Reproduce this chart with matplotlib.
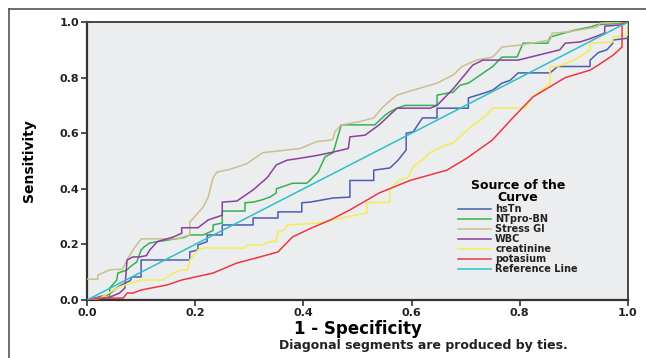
import matplotlib.pyplot as plt
from matplotlib.lines import Line2D
from matplotlib import font_manager

# ROC curves (1 - specificity, sensitivity)
hstn_x = [0, 0.04, 0.06, 0.08, 0.083, 0.10, 0.10, 0.19, 0.19, 0.205, 0.205, 0.222, 0.222, 0.25, 0.25, 0.307, 0.307,
          0.353, 0.353, 0.397, 0.397, 0.412, 0.455, 0.486, 0.486, 0.53, 0.53, 0.56, 0.575, 0.59, 0.59, 0.603, 0.62,
          0.647, 0.647, 0.705, 0.705, 0.735, 0.75, 0.767, 0.782, 0.797, 0.856, 0.87, 0.93, 0.93, 0.945, 0.961, 0.972,
          0.972, 1.0, 1.0]
hstn_y = [0, 0.02, 0.05, 0.07, 0.083, 0.083, 0.144, 0.144, 0.173, 0.18, 0.198, 0.21, 0.234, 0.234, 0.27, 0.27, 0.295,
          0.295, 0.317, 0.317, 0.35, 0.352, 0.367, 0.37, 0.43, 0.43, 0.467, 0.475, 0.503, 0.54, 0.60, 0.605, 0.655,
          0.655, 0.69, 0.69, 0.727, 0.745, 0.755, 0.78, 0.79, 0.817, 0.817, 0.84, 0.84, 0.863, 0.89, 0.9, 0.924,
          0.935, 0.942, 1.0]

ntpro_x = [0, 0.042, 0.042, 0.055, 0.057, 0.074, 0.08, 0.092, 0.10, 0.105, 0.116, 0.13, 0.18, 0.19, 0.215, 0.233,
           0.233, 0.25, 0.25, 0.292, 0.292, 0.307, 0.323, 0.338, 0.35, 0.35, 0.38, 0.406, 0.412, 0.427, 0.44, 0.455,
           0.47, 0.532, 0.551, 0.56, 0.573, 0.588, 0.647, 0.647, 0.677, 0.69, 0.705, 0.72, 0.735, 0.75, 0.767, 0.795,
           0.806, 0.852, 0.856, 0.869, 0.9, 0.93, 0.943, 0.99, 1.0]
ntpro_y = [0, 0.01, 0.043, 0.072, 0.097, 0.108, 0.12, 0.137, 0.18, 0.19, 0.205, 0.21, 0.225, 0.234, 0.234, 0.25,
           0.27, 0.277, 0.32, 0.32, 0.35, 0.352, 0.36, 0.37, 0.385, 0.40, 0.42, 0.42, 0.43, 0.46, 0.515, 0.53,
           0.63, 0.63, 0.665, 0.677, 0.69, 0.70, 0.70, 0.737, 0.748, 0.773, 0.78, 0.80, 0.82, 0.84, 0.874, 0.874,
           0.924, 0.924, 0.946, 0.953, 0.97, 0.982, 0.99, 0.996, 1.0]

stress_x = [0, 0.02, 0.02, 0.042, 0.05, 0.065, 0.074, 0.085, 0.10, 0.166, 0.19, 0.19, 0.215, 0.224, 0.233, 0.24,
            0.264, 0.295, 0.325, 0.394, 0.425, 0.45, 0.455, 0.458, 0.47, 0.5, 0.53, 0.545, 0.556, 0.573, 0.603,
            0.647, 0.677, 0.693, 0.72, 0.75, 0.767, 0.80, 0.856, 0.86, 0.887, 0.943, 0.948, 1.0]
stress_y = [0.075, 0.075, 0.09, 0.108, 0.11, 0.11, 0.144, 0.18, 0.22, 0.22, 0.234, 0.28, 0.335, 0.37, 0.44, 0.46,
            0.47, 0.49, 0.53, 0.545, 0.57, 0.575, 0.58, 0.605, 0.63, 0.64, 0.655, 0.69, 0.71, 0.737, 0.755,
            0.78, 0.81, 0.84, 0.863, 0.874, 0.91, 0.917, 0.935, 0.96, 0.964, 0.982, 0.996, 1.0]

wbc_x = [0, 0.042, 0.06, 0.07, 0.074, 0.085, 0.098, 0.11, 0.116, 0.13, 0.148, 0.16, 0.175, 0.175, 0.205, 0.224,
         0.25, 0.25, 0.277, 0.307, 0.333, 0.35, 0.37, 0.394, 0.425, 0.45, 0.483, 0.486, 0.514, 0.54, 0.573,
         0.634, 0.647, 0.677, 0.713, 0.732, 0.797, 0.874, 0.884, 0.911, 0.93, 0.957, 0.957, 0.989, 1.0]
wbc_y = [0, 0.01, 0.025, 0.043, 0.144, 0.155, 0.155, 0.16, 0.18, 0.21, 0.22, 0.227, 0.24, 0.26, 0.26, 0.288,
         0.305, 0.352, 0.356, 0.396, 0.44, 0.486, 0.503, 0.51, 0.52, 0.53, 0.545, 0.587, 0.593, 0.63, 0.69,
         0.69, 0.70, 0.76, 0.845, 0.863, 0.863, 0.9, 0.924, 0.928, 0.94, 0.96, 0.985, 0.99, 1.0]

creat_x = [0, 0.024, 0.06, 0.08, 0.10, 0.14, 0.16, 0.175, 0.186, 0.19, 0.205, 0.215, 0.292, 0.295, 0.323, 0.338,
           0.35, 0.353, 0.366, 0.37, 0.43, 0.47, 0.517, 0.517, 0.56, 0.56, 0.575, 0.593, 0.603, 0.62, 0.634,
           0.662, 0.677, 0.708, 0.735, 0.75, 0.81, 0.824, 0.856, 0.856, 0.87, 0.9, 0.915, 0.93, 0.93, 0.972,
           0.972, 1.0, 1.0]
creat_y = [0, 0.007, 0.047, 0.06, 0.072, 0.072, 0.097, 0.108, 0.108, 0.144, 0.18, 0.187, 0.187, 0.198, 0.198, 0.21,
           0.21, 0.245, 0.252, 0.27, 0.277, 0.295, 0.313, 0.35, 0.352, 0.396, 0.43, 0.44, 0.48, 0.503, 0.53,
           0.557, 0.565, 0.62, 0.66, 0.69, 0.69, 0.73, 0.78, 0.84, 0.84, 0.863, 0.88, 0.9, 0.924, 0.928,
           0.946, 0.953, 1.0]

kal_x = [0, 0.024, 0.067, 0.074, 0.085, 0.10, 0.129, 0.148, 0.175, 0.233, 0.277, 0.32, 0.353, 0.38, 0.416, 0.45,
         0.486, 0.54, 0.597, 0.665, 0.702, 0.749, 0.787, 0.824, 0.884, 0.93, 0.945, 0.972, 0.989, 0.989, 1.0]
kal_y = [0, 0.007, 0.007, 0.025, 0.025, 0.036, 0.047, 0.054, 0.072, 0.097, 0.133, 0.155, 0.173, 0.227, 0.26, 0.288,
         0.324, 0.385, 0.43, 0.467, 0.51, 0.575, 0.655, 0.73, 0.80, 0.827, 0.845, 0.88, 0.91, 0.996, 1.0]

ref_x = [0, 1]
ref_y = [0, 1]

nombres = ["hsTn", "NTpro-BN", "Stress Gl", "WBC", "creatinine", "potasium", "Reference Line"]
colores = ["#4a5db3", "#33b34f", "#c9bf8f", "#8c3f9e", "#f4ec55", "#ee3646", "#2ebfc7"]
curvas = [(hstn_x, hstn_y), (ntpro_x, ntpro_y), (stress_x, stress_y), (wbc_x, wbc_y),
          (creat_x, creat_y), (kal_x, kal_y), (ref_x, ref_y)]

fig = plt.figure(figsize=(6.46, 3.58), dpi=100)
ax = fig.add_axes([0.1347, 0.162, 0.8374, 0.7765])
ax.set_facecolor("#ecedee")

# dibujar en orden inverso para que la referencia quede abajo
orden = [6, 5, 4, 0, 3, 1, 2]
for i in orden:
    ax.plot(curvas[i][0], curvas[i][1], color=colores[i], linewidth=1.1, label=nombres[i], zorder=3 + i * 0.1)

ax.set_xlim(0, 1)
ax.set_ylim(0, 1)
ticks = [0.0, 0.2, 0.4, 0.6, 0.8, 1.0]
etiquetas = ["0.0", "0.2", "0.4", "0.6", "0.8", "1.0"]
ax.set_xticks(ticks)
ax.set_yticks(ticks)
ax.set_xticklabels(etiquetas, fontsize=8, fontweight="bold", color="#222222")
ax.set_yticklabels(etiquetas, fontsize=8, fontweight="bold", color="#222222")
ax.tick_params(direction="out", length=4, width=1.2, color="#333333", pad=1.5)

for s in ["left", "bottom"]:
    ax.spines[s].set_linewidth(1.6)
    ax.spines[s].set_color("#333333")
for s in ["top", "right"]:
    ax.spines[s].set_linewidth(1.4)
    ax.spines[s].set_color("#444444")

ax.set_xlabel("1 - Specificity", fontsize=12, fontweight="bold")
ax.xaxis.set_label_coords(0.5, -0.106)
ax.xaxis.label.set_va("center")

# fuente angosta para el eje y si existe
nombres_fuentes = set(f.name for f in font_manager.fontManager.ttflist)
if "Liberation Sans Narrow" in nombres_fuentes:
    ax.set_ylabel("Sensitivity", fontsize=12, fontweight="bold", family="Liberation Sans Narrow")
else:
    ax.set_ylabel("Sensitivity", fontsize=10, fontweight="bold")
ax.yaxis.set_label_coords(-0.108, 0.5)
ax.yaxis.label.set_va("center")

# leyenda
handles, labels = ax.get_legend_handles_labels()
mapa = dict(zip(labels, handles))
leg = ax.legend([mapa[n] for n in nombres], nombres, loc="upper left", bbox_to_anchor=(0.67, 0.465),
                frameon=False, fontsize=7, handlelength=3.4, handletextpad=0.4, labelspacing=0.0,
                title="Source of the\nCurve", title_fontproperties={"weight": "bold", "size": 9})
for t in leg.get_texts():
    t.set_fontweight("bold")
    t.set_color("#222222")
leg.get_title().set_multialignment("center")
leg.get_title().set_linespacing(0.85)

fig.text(0.656, 0.036, "Diagonal segments are produced by ties.", ha="center", va="center",
         fontsize=9, fontweight="bold", color="#222222")

# marco de la figura (solo arriba e izquierda)
fig.add_artist(Line2D([9 / 646, 1.0], [1 - 9 / 358, 1 - 9 / 358], color="#555555", linewidth=1.2))
fig.add_artist(Line2D([9 / 646, 9 / 646], [0, 1 - 9 / 358], color="#555555", linewidth=1.2))

plt.savefig("out.png", dpi=100)
